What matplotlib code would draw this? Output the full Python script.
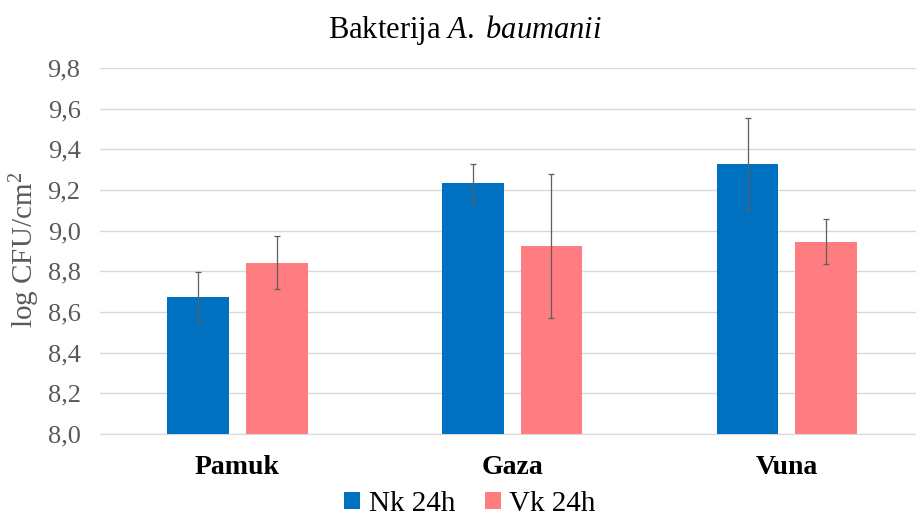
import numpy as np
import matplotlib
matplotlib.use("Agg")
import matplotlib.pyplot as plt
from matplotlib.ticker import FuncFormatter

# Podaci
kategorije = ["Pamuk", "Gaza", "Vuna"]
serije = ["Nk 24h", "Vk 24h"]
nk_vrijednosti = [8.675, 9.235, 9.328]
nk_greske = [0.122, 0.095, 0.225]
vk_vrijednosti = [8.843, 8.925, 8.946]
vk_greske = [0.132, 0.355, 0.11]

plt.rcParams["font.family"] = ["Liberation Serif", "DejaVu Serif"]
plt.rcParams["mathtext.fontset"] = "custom"
plt.rcParams["mathtext.rm"] = "Liberation Serif"
plt.rcParams["mathtext.it"] = "Liberation Serif:italic"

fig = plt.figure(figsize=(9.16, 5.17), dpi=100)
ax = fig.add_axes([100 / 916, 1 - 434 / 517, 1 - 100 / 916, (434 - 68) / 517])

x = np.arange(len(kategorije))
sirina = 0.225
pomak = 0.143
err_kw = dict(ecolor="#5f5f5f", elinewidth=0.9, capsize=2.5, capthick=0.9)

ax.bar(x - pomak, np.array(nk_vrijednosti) - 8.0, sirina, bottom=8.0, color="#0070C0",
       yerr=nk_greske, error_kw=err_kw, label=serije[0], zorder=3)
ax.bar(x + pomak, np.array(vk_vrijednosti) - 8.0, sirina, bottom=8.0, color="#FF7C80",
       yerr=vk_greske, error_kw=err_kw, label=serije[1], zorder=3)

ax.set_ylim(8.0, 9.8)
ax.set_xlim(-0.5, 2.47)
ax.set_yticks(np.arange(8.0, 9.81, 0.2))
ax.yaxis.set_major_formatter(FuncFormatter(lambda v, p: f"{v:.1f}".replace(".", ",")))
ax.grid(axis="y", color="#d9d9d9", linewidth=1, zorder=0)
for s in ["top", "right", "left"]:
    ax.spines[s].set_visible(False)
ax.spines["bottom"].set_color("#d9d9d9")
ax.tick_params(axis="y", length=0, labelsize=19, labelcolor="#595959", pad=14)
ax.tick_params(axis="x", length=0, pad=15)
ax.set_xticks(x)
ax.set_xticklabels(kategorije, fontsize=20, fontweight="bold")

fig.text(25 / 916, 1 - 250 / 517, "log CFU/cm$^2$", rotation=90, ha="center", va="center",
         fontsize=21, color="#595959")

fig.text(465 / 916, 1 - 30 / 517, "Bakterija $\\mathit{A.}$ $\\mathit{baumanii}$", ha="center",
         va="center", fontsize=22)

fig.legend(loc="center", bbox_to_anchor=(470 / 916, 1 - 504 / 517), ncol=2, frameon=False,
           fontsize=21, handlelength=0.55, handleheight=0.55, handletextpad=0.3,
           columnspacing=1.0)

fig.savefig("out.png", dpi=100)
